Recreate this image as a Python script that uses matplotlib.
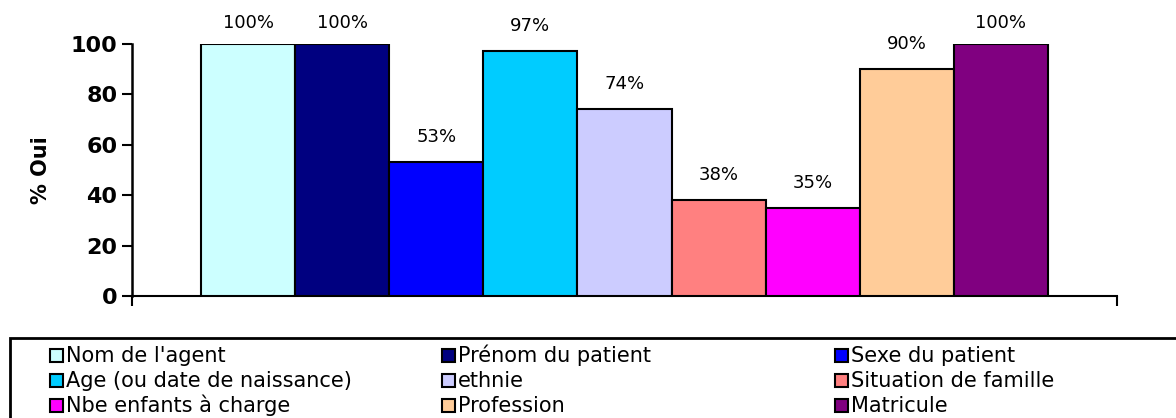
import matplotlib
matplotlib.use("Agg")
import matplotlib.pyplot as plt
from matplotlib.patches import Rectangle

categories = [
    "Nom de l'agent",
    "Prénom du patient",
    "Sexe du patient",
    "Age (ou date de naissance)",
    "ethnie",
    "Situation de famille",
    "Nbe enfants à charge",
    "Profession",
    "Matricule",
]
values = [100, 100, 53, 97, 74, 38, 35, 90, 100]
colors = ["#CCFFFF", "#000080", "#0000FF", "#00CCFF", "#CCCCFF",
          "#FF8080", "#FF00FF", "#FFCC99", "#800080"]
yticks = [0, 20, 40, 60, 80, 100]
ylabel = "% Oui"

W, H = 1176, 418
fig = plt.figure(figsize=(W / 100, H / 100), dpi=100)
ax = fig.add_axes([132 / W, 1 - 296 / H, (1117 - 132) / W, (296 - 43.5) / H])

for i, (cat, val, col) in enumerate(zip(categories, values, colors)):
    ax.bar(i, val, width=1.0, color=col, edgecolor="black",
           linewidth=1.5, label=cat, zorder=3)
    ly = min(val + 6.3, 104.6)
    ax.text(i, ly, f"{val}%", ha="center", va="bottom",
            fontsize=13, family="DejaVu Sans", clip_on=False)

ax.set_ylim(0, 100)
ax.set_xlim(-1.233, len(values) - 1 + 1.233)
ax.set_yticks(yticks)
ax.set_yticklabels([str(t) for t in yticks], fontsize=16, fontweight="bold")
ax.set_xticks([ax.get_xlim()[0], ax.get_xlim()[1]])
ax.set_xticklabels([])
ax.tick_params(axis="y", direction="out", length=7, width=1.5, pad=3.5)
ax.tick_params(axis="x", direction="out", length=7, width=1.5)
ax.set_ylabel(ylabel, fontsize=15, fontweight="bold", labelpad=14)

for side in ("top", "right"):
    ax.spines[side].set_visible(False)
ax.spines["left"].set_linewidth(1.8)
ax.spines["bottom"].set_linewidth(1.5)

# Legend frame running off the bottom and right of the figure
fig.patches.append(Rectangle((10 / W, -0.05), 1.2, (1 - 338 / H) + 0.05,
                             transform=fig.transFigure, fill=False,
                             edgecolor="black", linewidth=2, clip_on=False))

# Legend entries on a 3x3 grid, read row by row, sharing baselines
col_x = [50, 442, 835]
row_base = [362, 387, 412]
sq = 13
for k, (cat, col) in enumerate(zip(categories, colors)):
    r, c = divmod(k, 3)
    x0, yb = col_x[c], row_base[r]
    fig.patches.append(Rectangle((x0 / W, 1 - yb / H), sq / W, sq / H,
                                 transform=fig.transFigure, facecolor=col,
                                 edgecolor="black", linewidth=1.5))
    fig.text((x0 + sq + 3) / W, 1 - yb / H, cat, va="baseline", ha="left",
             fontsize=15, family="DejaVu Sans")

fig.savefig("out.png", dpi=100)
